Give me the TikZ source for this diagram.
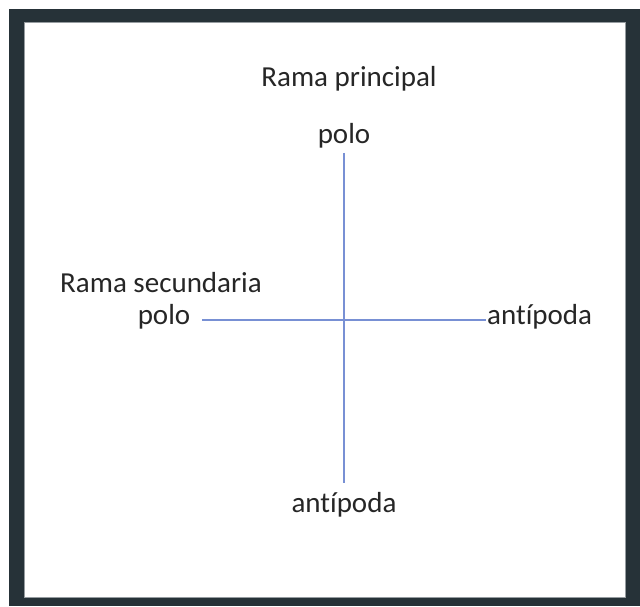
\documentclass[tikz,border=0pt]{standalone}
\usepackage{fontspec}
\setmainfont{Carlito}[Ligatures={NoCommon}]
\definecolor{framedark}{RGB}{38,50,56}
\definecolor{framegray}{RGB}{150,156,160}
\definecolor{axisblue}{RGB}{120,144,212}

\begin{document}
\begin{tikzpicture}[x=1pt,y=-1pt,
    lbl/.style={font=\fontsize{29}{34}\selectfont, inner sep=0pt, text=black!85},
    rama/.style={draw=axisblue, line width=2pt}]
				% frame
				\useasboundingbox (0,0) rectangle (640,606);
				\fill[white] (0,0) rectangle (640,606);
				\fill[framedark] (9,9) rectangle (640,606);
				\fill[white] (24,22) rectangle (625,597);
				\draw[framegray, line width=0.8pt] (24,22) rectangle (625,597);
				
				% main branch
				\node[lbl, anchor=base] (principal) at (349,86) {Rama principal};
				\node[lbl, anchor=base] (polo1) at (344,143) {polo};
				\node[lbl, anchor=base] (antipoda1) at (344,512) {antípoda};
				\draw[rama, shorten <=5pt, shorten >=9pt] (polo1.south) -- (antipoda1.north);
				
				% secondary branch
				\node[lbl, anchor=base] (secundaria) at (161,292) {Rama secundaria};
				\node[lbl, anchor=base] (polo2) at (164,324) {polo};
				\node[lbl, anchor=base west] (antipoda2) at (487,324) {antípoda};
				\draw[rama, transform canvas={yshift=2pt}, shorten <=12pt, shorten >=1pt] (polo2.mid east) -- (antipoda2.mid west);
			\end{tikzpicture}
\end{document}
